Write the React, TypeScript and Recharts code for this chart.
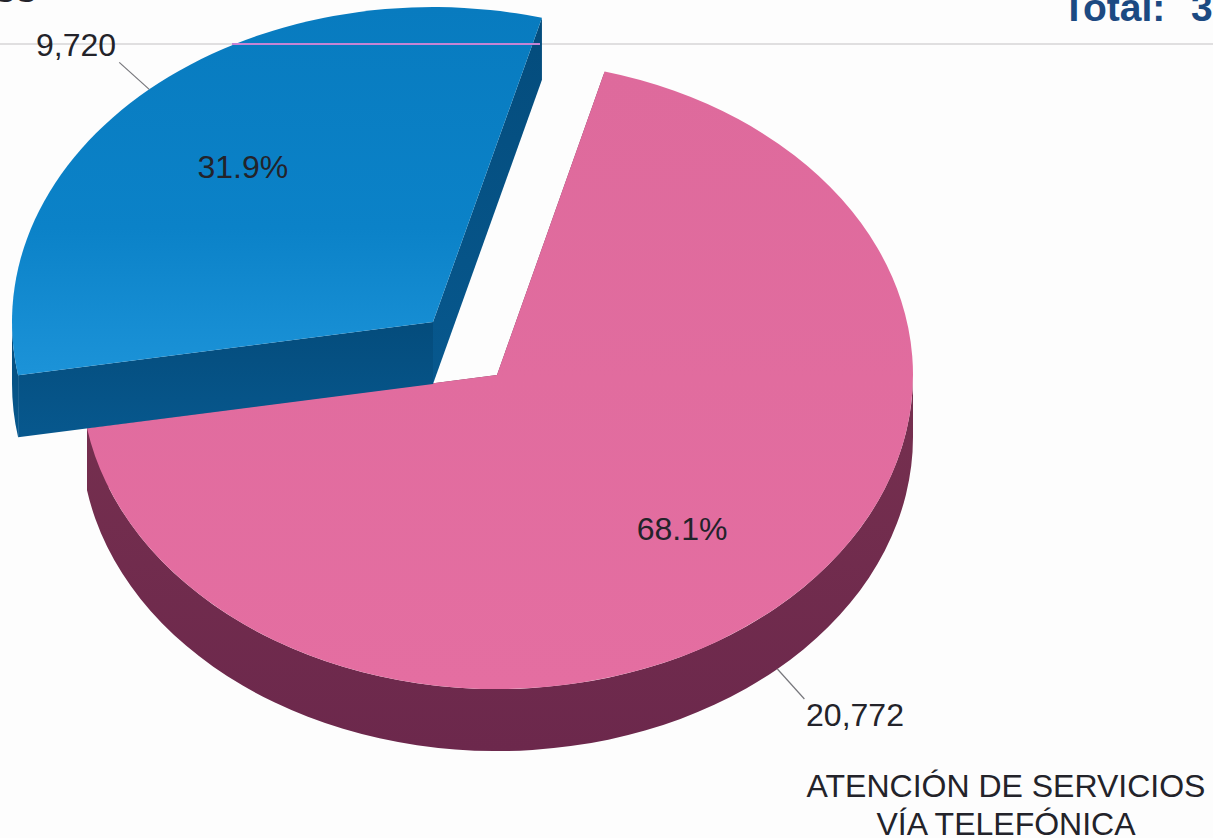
import React from 'react';
import { PieChart, Pie, Cell } from 'recharts';

const categories = ['Llamadas atendidas', 'Otros servicios'];
const values = [20772, 9720];
const topColors = ['url(#pinkTop)', 'url(#blueTop)'];
const wallColors = ['url(#pinkWall)', 'url(#blueWall)'];
const titleLines = ['ATENCIÓN DE SERVICIOS', 'VÍA TELEFÓNICA'];

const data = categories.map((name, i) => ({ name, value: values[i] }));

const W = 1213;
const H = 838;
const CX = 497;
const CY = 375;
const RADIUS = 416;
const DEPTH = 62;
const FONT = '"Liberation Sans", Arial, sans-serif';

// pie is drawn tilted, so every slice is an ellipse pushed out by its own offset
const sliceGeom = [
  { dx: 0, dy: 0, sx: 1, sy: 0.755, labelAt: 0.66 },
  { dx: -64, dy: -53, sx: 1.012, sy: 0.757, labelAt: 0.67 },
];
const valueLabels = [
  { fromY: DEPTH, tx: 27, ty: 30, lx: 855, ly: 726 },
  { fromY: 0, tx: -30, ty: -27, lx: 76, ly: 56 },
];

const rad = (a: number) => (a * Math.PI) / 180;

function ellipsePoint(cx: number, cy: number, rx: number, ry: number, a: number) {
  return [cx + rx * Math.cos(rad(a)), cy - ry * Math.sin(rad(a))];
}

const TiltedSlice = (props: any) => {
  const { cx, cy, outerRadius, startAngle, endAngle, index } = props;
  const g = sliceGeom[index];
  const x0 = cx + g.dx;
  const y0 = cy + g.dy;
  const rx = outerRadius * g.sx;
  const ry = outerRadius * g.sy;
  const hi = Math.max(startAngle, endAngle);
  const lo = Math.min(startAngle, endAngle);
  const p = (a: number) => ellipsePoint(x0, y0, rx, ry, a);
  const [sx, sy] = p(hi);
  const [ex, ey] = p(lo);
  const large = hi - lo > 180 ? 1 : 0;
  const top = `M${x0},${y0} L${sx},${sy} A${rx},${ry} 0 ${large} 1 ${ex},${ey} Z`;
  const side = (x: number, y: number) =>
    `M${x0},${y0} L${x},${y} L${x},${y + DEPTH} L${x0},${y0 + DEPTH} Z`;
  // outer wall only shows on the lower half of the ellipse
  const wHi = Math.min(hi, 0);
  const wLo = Math.max(lo, -180);
  const [ax, ay] = p(wHi);
  const [bx, by] = p(wLo);
  const wall = `M${ax},${ay} A${rx},${ry} 0 0 1 ${bx},${by} L${bx},${by + DEPTH} A${rx},${ry} 0 0 0 ${ax},${ay + DEPTH} Z`;
  const wallFill = wallColors[index];
  return (
    <g>
      <path d={side(sx, sy)} fill={wallFill} />
      <path d={side(ex, ey)} fill={wallFill} />
      <path d={wall} fill={wallFill} />
      <path d={top} fill={topColors[index]} />
    </g>
  );
};

const SliceLabel = (props: any) => {
  const { cx, cy, outerRadius, midAngle, percent, value, index } = props;
  const g = sliceGeom[index];
  const v = valueLabels[index];
  const rx = outerRadius * g.sx;
  const ry = outerRadius * g.sy;
  const [px, py] = ellipsePoint(cx + g.dx, cy + g.dy, rx * g.labelAt, ry * g.labelAt, midAngle);
  const [ex, ey] = ellipsePoint(cx + g.dx, cy + g.dy, rx, ry, midAngle);
  const text = { fontFamily: FONT, fontSize: 32, fill: '#23232a', textAnchor: 'middle' as const };
  return (
    <g>
      <text x={px} y={py + 12} {...text}>{`${(percent * 100).toFixed(1)}%`}</text>
      <line x1={ex} y1={ey + v.fromY} x2={ex + v.tx} y2={ey + v.fromY + v.ty} stroke="#77777c" strokeWidth={1.2} />
      <text x={v.lx} y={v.ly} {...text}>{value.toLocaleString('en-US')}</text>
    </g>
  );
};

export default function App() {
  return (
    <div style={{ position: 'fixed', left: 0, top: 0, width: W, height: H, overflow: 'hidden', background: '#fdfdfd' }}>
      <svg width={W} height={H} style={{ position: 'absolute', left: 0, top: 0 }}>
        <line x1={0} y1={44} x2={W} y2={44} stroke="#e0dfe0" strokeWidth={2} />
        <text x={-6} y={2} fontFamily={FONT} fontSize={32} fill="#23232a">SS</text>
        <text x={1062} y={21} fontFamily={FONT} fontSize={39} fontWeight="bold" fill="#1c4a82" style={{ whiteSpace: 'pre' }}>
          {'Total:  '}
          <tspan dx={4}>3</tspan>
        </text>
      </svg>
      <div style={{ position: 'absolute', left: 0, top: 0 }}>
        <PieChart width={W} height={H} margin={{ top: 0, right: 0, bottom: 0, left: 0 }}>
          <defs>
            <linearGradient id="blueTop" x1="0" y1="0" x2="0" y2="1">
              <stop offset="0%" stopColor="#087bbf" />
              <stop offset="60%" stopColor="#0b82c8" />
              <stop offset="100%" stopColor="#1c93d8" />
            </linearGradient>
            <linearGradient id="blueWall" x1="0" y1="0" x2="0" y2="1">
              <stop offset="0%" stopColor="#044c7c" />
              <stop offset="100%" stopColor="#07588e" />
            </linearGradient>
            <linearGradient id="pinkTop" x1="0" y1="0" x2="0" y2="1">
              <stop offset="0%" stopColor="#de6a9c" />
              <stop offset="100%" stopColor="#e46ea1" />
            </linearGradient>
            <linearGradient id="pinkWall" x1="0" y1="0" x2="0" y2="1">
              <stop offset="0%" stopColor="#76304f" />
              <stop offset="100%" stopColor="#6c284c" />
            </linearGradient>
          </defs>
          <Pie
            data={data}
            dataKey="value"
            nameKey="name"
            cx={CX}
            cy={CY}
            innerRadius={0}
            outerRadius={RADIUS}
            startAngle={75}
            endAngle={-285}
            stroke="none"
            shape={TiltedSlice}
            label={SliceLabel}
            labelLine={false}
            isAnimationActive={false}
          >
            {data.map((d, i) => (
              <Cell key={d.name} fill={topColors[i]} />
            ))}
          </Pie>
        </PieChart>
      </div>
      <svg width={W} height={H} style={{ position: 'absolute', left: 0, top: 0, pointerEvents: 'none' }}>
        <line x1={232} y1={44} x2={540} y2={44} stroke="#c684d4" strokeWidth={2} />
        {titleLines.map((t, i) => (
          <text key={t} x={1006} y={797 + i * 38} textAnchor="middle" fontFamily={FONT} fontSize={32} fill="#23232a">{t}</text>
        ))}
      </svg>
    </div>
  );
}
